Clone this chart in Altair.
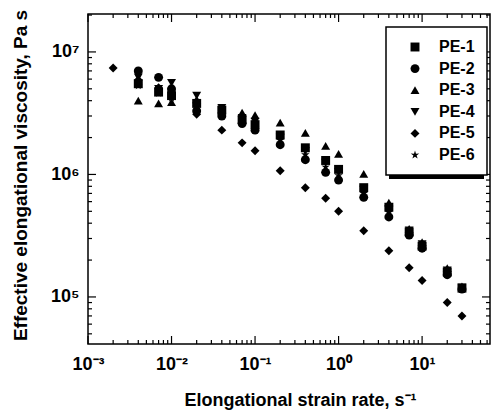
import altair as alt
import pandas as pd

# ---- data ----
series_names = ["PE-1", "PE-2", "PE-3", "PE-4", "PE-5", "PE-6"]
rates = [0.004, 0.007, 0.01, 0.02, 0.04, 0.07, 0.1, 0.2, 0.4, 0.7, 1, 2, 4, 7, 10, 20, 30]
rates_pe5 = [0.002] + rates

pe1 = [5.5e6, 4.7e6, 4.4e6, 3.8e6, 3.35e6, 2.8e6, 2.55e6, 2.1e6, 1.65e6, 1.3e6, 1.1e6, 7.8e5, 5.4e5, 3.4e5, 2.6e5, 1.6e5, 1.18e5]
pe2 = [7.0e6, 6.2e6, 5.0e6, 3.3e6, 3.0e6, 2.6e6, 2.3e6, 1.75e6, 1.32e6, 1.04e6, 9.0e5, 6.5e5, 4.5e5, 3.2e5, 2.5e5, 1.52e5, 1.16e5]
pe3 = [4.0e6, 3.8e6, 3.9e6, 4.1e6, 3.4e6, 3.2e6, 3.05e6, 2.65e6, 2.18e6, 1.71e6, 1.47e6, 1.01e6, 5.9e5, 3.6e5, 2.8e5, 1.72e5, 1.22e5]
pe4 = [6.2e6, 5.0e6, 5.6e6, 4.4e6, 3.5e6, 2.9e6, 2.7e6, 2.0e6, 1.55e6, 1.25e6, 1.05e6, 7.5e5, 5.2e5, 3.5e5, 2.7e5, 1.65e5, 1.2e5]
pe5 = [7.4e6, 5.9e6, 5.1e6, 4.9e6, 3.1e6, 2.3e6, 1.81e6, 1.56e6, 1.07e6, 7.8e5, 6.4e5, 5.0e5, 3.47e5, 2.38e5, 1.73e5, 1.36e5, 9.0e4, 7.0e4]
pe6 = [5.3e6, 4.6e6, 4.2e6, 3.6e6, 3.1e6, 2.7e6, 2.4e6, 1.9e6, 1.45e6, 1.15e6, 9.8e5, 7.0e5, 4.9e5, 3.3e5, 2.55e5, 1.58e5, 1.17e5]

x_major = [1e-3, 1e-2, 1e-1, 1, 10]
x_minor = [m * 10 ** k for k in range(-3, 2) for m in range(2, 10)]
x_minor = [v for v in x_minor if v < 65]
y_major = [1e5, 1e6, 1e7]
y_minor = [5e4, 6e4, 7e4, 8e4, 9e4] + [m * 10 ** k for k in (5, 6) for m in range(2, 10)] + [2e7]

rows = []
for name, xs, ys in [("PE-1", rates, pe1), ("PE-2", rates, pe2), ("PE-3", rates, pe3),
                     ("PE-4", rates, pe4), ("PE-5", rates_pe5, pe5), ("PE-6", rates, pe6)]:
    for xv, yv in zip(xs, ys):
        rows.append({"series": name, "rate": xv, "visc": yv})
df = pd.DataFrame(rows)

W, H = 402, 330
FONT = "Liberation Sans"
star = ("M0,-1L0.2233,-0.3074L0.951,-0.309L0.3614,0.1174L0.588,0.809L0,0.38"
        "L-0.588,0.809L-0.3614,0.1174L-0.951,-0.309L-0.2233,-0.3074Z")
shapes = ["square", "circle", "triangle-up", "triangle-down", "diamond", star]

xscale = alt.Scale(type="log", domain=[1e-3, 65], nice=False)
yscale = alt.Scale(type="log", domain=[4.13e4, 2.04e7], nice=False)

points = alt.Chart(df).mark_point(filled=True, size=80, color="black", opacity=1).encode(
    x=alt.X("rate:Q", scale=xscale,
            axis=alt.Axis(values=x_major, ticks=False, tickSize=0, domain=False, grid=False,
                          labelExpr="'10' + ['⁻³','⁻²','⁻¹','⁰','¹'][round(log(datum.value)/LN10)+3]",
                          labelFont=FONT, labelFontSize=18, labelFontWeight="bold", labelColor="black",
                          labelPadding=11, labelFlush=False,
                          title="Elongational strain rate, s⁻¹", titleFont=FONT, titleFontSize=18,
                          titleFontWeight="bold", titleColor="black", titlePadding=18,
                          titleX=212, titleAlign="center")),
    y=alt.Y("visc:Q", scale=yscale,
            axis=alt.Axis(values=y_major, ticks=False, tickSize=0, domain=False, grid=False,
                          labelExpr="'10' + ['⁵','⁶','⁷'][round(log(datum.value)/LN10)-5]",
                          labelFont=FONT, labelFontSize=18, labelFontWeight="bold", labelColor="black",
                          labelPadding=9, labelFlush=False,
                          title="Effective elongational viscosity, Pa s", titleFont=FONT, titleFontSize=19,
                          titleFontWeight="bold", titleColor="black", titlePadding=20,
                          titleY=161, titleAlign="center")),
    shape=alt.Shape("series:N", scale=alt.Scale(domain=series_names, range=shapes),
                    legend=alt.Legend(title=None, orient="none", legendX=298, legendY=13,
                                      padding=12, fillColor="white", strokeColor="black",
                                      labelFont=FONT, labelFontSize=16, labelFontWeight="bold",
                                      labelColor="black", symbolSize=80, symbolFillColor="black",
                                      symbolStrokeColor="black",
                                      symbolOffset=9, labelOffset=16, rowPadding=5.6)),
)

def xticks(vals, length, top):
    d = pd.DataFrame({"rate": vals})
    y0, y1 = (0, length) if top else (H, H - length)
    return alt.Chart(d).mark_rule(color="black", strokeWidth=1.2).encode(
        x=alt.X("rate:Q", scale=xscale), y=alt.value(y0), y2=alt.value(y1))

def yticks(vals, length, right):
    d = pd.DataFrame({"visc": vals})
    x0, x1 = (W, W - length) if right else (0, length)
    return alt.Chart(d).mark_rule(color="black", strokeWidth=1.2).encode(
        y=alt.Y("visc:Q", scale=yscale), x=alt.value(x0), x2=alt.value(x1))

shadow = alt.Chart(pd.DataFrame({"a": [0]})).mark_rect(color="black").encode(
    x=alt.value(301), x2=alt.value(396), y=alt.value(16), y2=alt.value(165))

chart = alt.layer(
    points, shadow,
    xticks(x_major, 8, False), xticks(x_minor, 4, False),
    xticks(x_major, 8, True), xticks(x_minor, 4, True),
    yticks(y_major, 8, False), yticks(y_minor, 4, False),
    yticks(y_major, 8, True), yticks(y_minor, 4, True),
).properties(
    width=W, height=H,
    autosize=alt.AutoSizeParams(type="none"),
    padding={"left": 88, "top": 14, "right": 2, "bottom": 71},
    background="white",
).configure_view(stroke="black", strokeWidth=1.5).configure_legend(strokeWidth=1.5)

chart.save("out.html", embed_options={"renderer": "svg", "actions": False})
